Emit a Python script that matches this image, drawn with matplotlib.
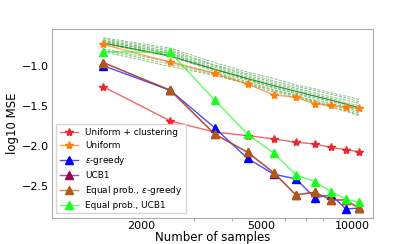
import numpy as np
import matplotlib
matplotlib.use("Agg")
import matplotlib.pyplot as plt
from matplotlib.ticker import ScalarFormatter, NullFormatter

# sample sizes
n_samples = [1500, 2500, 3500, 4500, 5500, 6500, 7500, 8500, 9500, 10500]

# log10 MSE per method
unif_clust = [-1.262, -1.691, -1.830, -1.875, -1.916, -1.958, -1.979, -2.022, -2.050, -2.077]
uniform = [-0.733, -0.958, -1.095, -1.229, -1.366, -1.395, -1.475, -1.495, -1.520, -1.533]
eps_greedy = [-1.000, -1.308, -1.775, -2.160, -2.358, -2.416, -2.650, -2.616, -2.791, -2.783]
ucb1 = [-0.960, -1.308, -1.854, -2.083, -2.340, -2.616, -2.583, -2.679, -2.680, -2.783]
eq_eps_greedy = [-0.960, -1.308, -1.854, -2.083, -2.340, -2.616, -2.583, -2.679, -2.680, -2.783]
eq_ucb1 = [-0.825, -0.833, -1.429, -1.854, -2.095, -2.366, -2.450, -2.575, -2.670, -2.708]

# individual runs (dashed green band) and their mean
runs = [
    [-0.650, -0.780, -0.960, -1.080, -1.160, -1.240, -1.290, -1.340, -1.380, -1.420],
    [-0.665, -0.800, -0.990, -1.100, -1.190, -1.260, -1.310, -1.360, -1.400, -1.450],
    [-0.680, -0.820, -1.000, -1.120, -1.210, -1.280, -1.340, -1.390, -1.430, -1.470],
    [-0.690, -0.840, -1.020, -1.140, -1.230, -1.300, -1.360, -1.410, -1.460, -1.500],
    [-0.700, -0.850, -1.040, -1.160, -1.250, -1.320, -1.380, -1.430, -1.480, -1.530],
    [-0.715, -0.870, -1.050, -1.170, -1.270, -1.340, -1.400, -1.450, -1.500, -1.550],
    [-0.730, -0.880, -1.070, -1.180, -1.280, -1.350, -1.420, -1.470, -1.520, -1.570],
    [-0.790, -0.950, -1.090, -1.200, -1.300, -1.370, -1.440, -1.490, -1.540, -1.590],
    [-0.805, -0.980, -1.110, -1.220, -1.310, -1.380, -1.450, -1.510, -1.560, -1.610],
    [-0.825, -1.010, -1.120, -1.230, -1.330, -1.400, -1.460, -1.520, -1.570, -1.625],
]
runs_mean = [-0.715, -0.880, -1.045, -1.160, -1.250, -1.320, -1.380, -1.430, -1.480, -1.525]

fig = plt.figure(figsize=(4.15, 2.44), dpi=100)
ax = fig.add_axes([0.125, 0.107, 0.774, 0.774])

for r in runs:
    ax.plot(n_samples, r, '--', color='green', lw=0.6, alpha=0.55)
ax.plot(n_samples, runs_mean, '-', color='green', lw=0.9, alpha=0.75)


def line(y, c, m, label, ms):
    ax.plot(n_samples, y, '-', marker=m, color=c + (0.7,), lw=1.0,
            markerfacecolor=c, markeredgecolor=c, markersize=ms, label=label)


line(unif_clust, (0.93, 0.15, 0.18), '*', 'Uniform + clustering', 6)
line(uniform, (1.0, 0.5, 0.05), '*', 'Uniform', 6)
line(eps_greedy, (0.0, 0.0, 1.0), '^', r'$\epsilon$-greedy', 5.5)
line(ucb1, (0.6, 0.0, 0.35), '^', 'UCB1', 5.5)
line(eq_eps_greedy, (0.7, 0.35, 0.08), '^', r'Equal prob., $\epsilon$-greedy', 5.5)
line(eq_ucb1, (0.1, 1.0, 0.1), '^', 'Equal prob., UCB1', 5.5)

ax.set_xscale('log')
ax.set_xlim(1015, 11700)
ax.set_ylim(-2.904, -0.541)
ax.set_xticks([2000, 5000, 10000])
ax.xaxis.set_major_formatter(ScalarFormatter())
ax.xaxis.set_minor_formatter(NullFormatter())
ax.set_yticks([-1.0, -1.5, -2.0, -2.5])
ax.tick_params(labelsize=8, length=0, pad=2)
ax.tick_params(which='minor', length=2, width=0.5, color='#999999')
for s in ax.spines.values():
    s.set_color('#aaaaaa')
    s.set_linewidth(0.8)

ax.set_xlabel('Number of samples', fontsize=8.5, labelpad=0)
ax.set_ylabel('log10 MSE', fontsize=8.5, labelpad=2)
ax.legend(loc='lower left', fontsize=6.4, handlelength=2.0, borderpad=0.4,
          labelspacing=0.45, framealpha=0.8, edgecolor='#cccccc', fancybox=False)

fig.savefig('out.png', dpi=100)
